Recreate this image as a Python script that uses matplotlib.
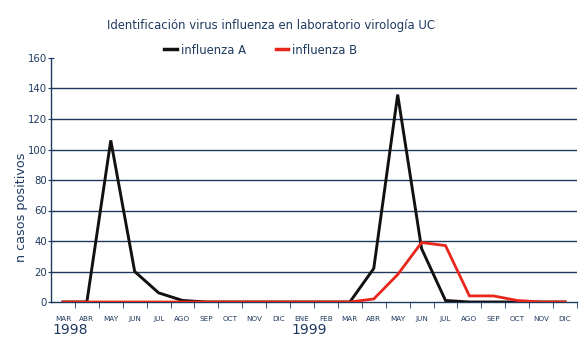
import matplotlib
matplotlib.use("Agg")
import matplotlib.pyplot as plt
from matplotlib.lines import Line2D
from matplotlib.transforms import blended_transform_factory

# Monthly positive cases, March 1998 - December 1999
months = ["MAR", "ABR", "MAY", "JUN", "JUL", "AGO", "SEP", "OCT", "NOV", "DIC",
          "ENE", "FEB", "MAR", "ABR", "MAY", "JUN", "JUL", "AGO", "SEP", "OCT", "NOV", "DIC"]
influenza_a = [0, 0, 106, 20, 6, 1, 0, 0, 0, 0,
               0, 0, 0, 22, 136, 35, 1, 0, 0, 0, 0, 0]
influenza_b = [0, 0, 0, 0, 0, 0, 0, 0, 0, 0,
               0, 0, 0, 2, 18, 39, 37, 4, 4, 1, 0, 0]
years = ["1998", "1999"]
year_positions = [0, 10]
yticks = [0, 20, 40, 60, 80, 100, 120, 140, 160]

navy = "#1f3a5f"
red = "#e8261c"
black = "#111111"

fig = plt.figure(figsize=(5.87, 3.48), dpi=100)
ax = fig.add_axes([51 / 587, 46 / 348, 526 / 587, 244 / 348])

x = list(range(len(months)))
ax.plot(x, influenza_a, color=black, lw=2.1, solid_joinstyle="miter", zorder=3)
ax.plot(x, influenza_b, color=red, lw=2.0, solid_joinstyle="miter", zorder=4)

ax.set_xlim(-0.5, len(months) - 0.5)
ax.set_ylim(0, 160)

# horizontal grid lines (none at the top value)
for v in yticks[1:-1]:
    ax.axhline(v, color=navy, lw=1.0, zorder=1)

for side in ["top", "right"]:
    ax.spines[side].set_visible(False)
for side in ["left", "bottom"]:
    ax.spines[side].set_color(navy)
    ax.spines[side].set_linewidth(1.0)

ax.set_yticks(yticks)
ax.set_yticklabels([str(v) for v in yticks], fontsize=7.3, color=navy)
ax.tick_params(axis="y", direction="inout", length=4, color=navy, pad=1)

# month labels centred in each category, tick marks on category boundaries
ax.set_xticks(x)
ax.set_xticklabels(months, fontsize=5.2, color=navy)
ax.tick_params(axis="x", which="major", length=0, pad=10)
ax.set_xticks([i + 0.5 for i in x], minor=True)
ax.tick_params(axis="x", which="minor", direction="out", length=4, color=navy)

trans = blended_transform_factory(ax.transData, fig.transFigure)
for yr, pos in zip(years, year_positions):
    ax.text(pos - 0.45, 1 - 330 / 348, yr, transform=trans, fontsize=10,
            color=navy, ha="left", va="center")

ax.set_ylabel("n casos positivos", fontsize=9.2, color=navy)
ax.yaxis.set_label_coords(-23 / 526, 0.39)

fig.text(271 / 587, 1 - 26 / 348,
         "Identificación virus influenza en laboratorio virología UC",
         fontsize=8.4, color=navy, ha="center", va="center")

handles = [Line2D([], [], color=black, lw=2.5), Line2D([], [], color=red, lw=2.5)]
fig.legend(handles, ["influenza A", "influenza B"], loc="center",
           bbox_to_anchor=(261 / 587, 1 - 50 / 348), ncol=2, frameon=False,
           fontsize=8.4, labelcolor=navy, handlelength=1.1, handletextpad=0.35,
           columnspacing=2.5, borderpad=0)

fig.savefig("out.png", dpi=100, facecolor="white")
